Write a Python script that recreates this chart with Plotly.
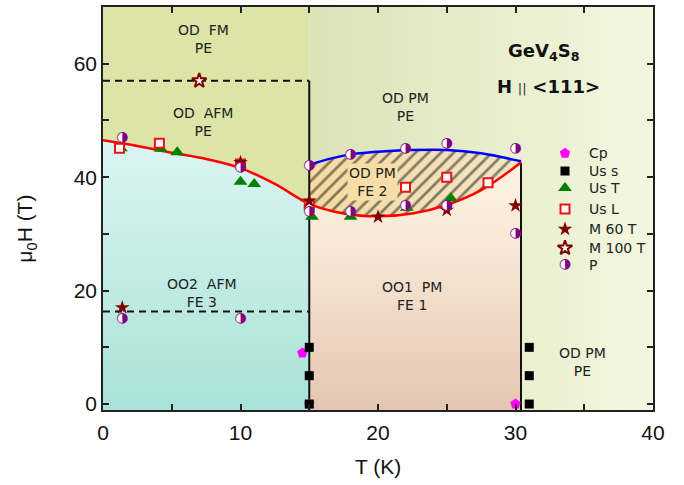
import plotly.graph_objects as go

# ---------------- axes ----------------
T_RANGE = [0, 40]
H_RANGE = [-1.05, 70]

# ---------------- phase boundaries ----------------
T_N1 = 15.0        # lower ordering temperature (K)
T_N2 = 30.4        # upper ordering temperature (K)
H_FM = 57.0        # AFM -> FM field (T)
H_FE3 = 16.3       # FE3 boundary field (T)

red_T = [0, 2.5, 5, 7.5, 10, 12.5, 15, 17.5, 20, 22.5, 25, 27.5, 30.4]
red_H = [46.5, 45.5, 44.3, 43.2, 41.6, 38.8, 35.3, 33.6, 33.1, 33.6, 35.1, 37.7, 42.6]
blue_T = [15, 17.5, 20, 22.5, 25, 27.5, 30.4]
blue_H = [42.2, 43.8, 44.5, 44.8, 44.8, 44.2, 42.8]

# ---------------- data points ----------------
cp_T = [14.5, 15, 30]
cp_H = [9, 0, 0]
uss_T = [15, 15, 15, 31, 31, 31]
uss_H = [10, 5, 0, 10, 5, 0]
ust_T = [1.3, 4.2, 5.4, 10, 11, 15.2, 18, 22.1, 25.3]
ust_H = [45.1, 45.0, 44.4, 39.2, 38.8, 33.0, 33.0, 34.6, 36.3]
usl_T = [1.2, 4.1, 10, 15, 22, 25, 28]
usl_H = [45.1, 46.0, 42.3, 35.2, 38.2, 40.0, 39.0]
m60_T = [1.4, 10, 15, 20, 25, 30]
m60_H = [17.0, 42.6, 35.8, 33.0, 34.2, 35.0]
m100_T = [7]
m100_H = [57]
p_T = [1.4, 1.4, 10, 10, 15, 15, 18, 18, 22, 22, 25, 25, 30, 30]
p_H = [47.0, 15.0, 15.0, 41.7, 42.1, 34.0, 44.0, 34.0, 45.0, 35.0, 46.0, 35.0, 45.0, 30.0]

legend_names = ["Cp", "Us s", "Us T", "Us L", "M 60 T", "M 100 T", "P"]

LBL_FONT = dict(family="DejaVu Sans", size=14, color="#222222")
AX_FONT = dict(family="Liberation Sans, Arial", size=21, color="#111111")
PURPLE = "#800080"

fig = go.Figure()

ylo, yhi = H_RANGE

# upper-left olive region
fig.add_trace(go.Scatter(x=[T_RANGE[0], T_N1, T_N1, T_RANGE[0]], y=[ylo, ylo, yhi, yhi],
                         fill="toself", fillcolor="#dce4a8", mode="lines",
                         line=dict(width=0), hoverinfo="skip", showlegend=False))
# upper-right gradient region
fig.add_trace(go.Scatter(x=[T_N1, T_RANGE[1], T_RANGE[1], T_N1], y=[ylo, ylo, yhi, yhi],
                         fill="toself", mode="lines", line=dict(width=0),
                         fillgradient=dict(type="horizontal",
                                           colorscale=[[0, "#dbe2b6"], [0.5, "#e7edcb"], [1, "#f3f7e0"]]),
                         hoverinfo="skip", showlegend=False))

n1 = red_T.index(T_N1)

# lower-left cyan region
fig.add_trace(go.Scatter(x=[T_RANGE[0], T_N1], y=[ylo, ylo], mode="lines",
                         line=dict(width=0), hoverinfo="skip", showlegend=False))
fig.add_trace(go.Scatter(x=red_T[:n1 + 1], y=red_H[:n1 + 1], mode="lines",
                         line=dict(width=0, shape="spline"), fill="tonexty",
                         fillgradient=dict(type="vertical",
                                           colorscale=[[0, "#a9e2d8"], [1, "#dbf5f1"]]),
                         hoverinfo="skip", showlegend=False))
# lower-middle peach region
fig.add_trace(go.Scatter(x=[T_N1, T_N2], y=[ylo, ylo], mode="lines",
                         line=dict(width=0), hoverinfo="skip", showlegend=False))
fig.add_trace(go.Scatter(x=red_T[n1:], y=red_H[n1:], mode="lines",
                         line=dict(width=0, shape="spline"), fill="tonexty",
                         fillgradient=dict(type="vertical",
                                           colorscale=[[0, "#e3c6b1"], [0.6, "#f6e5d3"], [1, "#fdf3e2"]]),
                         hoverinfo="skip", showlegend=False))
# hatched FE2 region
fig.add_trace(go.Scatter(x=red_T[n1:], y=red_H[n1:], mode="lines",
                         line=dict(width=0, shape="spline"), hoverinfo="skip", showlegend=False))
fig.add_trace(go.Scatter(x=blue_T, y=blue_H, mode="lines",
                         line=dict(width=0, shape="spline"), fill="tonexty",
                         fillgradient=dict(type="horizontal",
                                           colorscale=[[0, "#f6daa1"], [1, "#f0e6c6"]]),
                         hoverinfo="skip", showlegend=False))
fig.add_trace(go.Scatter(x=red_T[n1:], y=red_H[n1:], mode="lines",
                         line=dict(width=0, shape="spline"), hoverinfo="skip", showlegend=False))
fig.add_trace(go.Scatter(x=blue_T, y=blue_H, mode="lines",
                         line=dict(width=0, shape="spline"), fill="tonexty",
                         fillcolor="rgba(0,0,0,0)",
                         fillpattern=dict(shape="/", size=9, solidity=0.3,
                                          fgcolor="#111111", bgcolor="rgba(0,0,0,0)"),
                         hoverinfo="skip", showlegend=False))

# black phase lines
fig.add_trace(go.Scatter(x=[T_N1, T_N1], y=[ylo, H_FM], mode="lines",
                         line=dict(color="#111111", width=2), hoverinfo="skip", showlegend=False))
fig.add_trace(go.Scatter(x=[T_N2, T_N2], y=[ylo, red_H[-1]], mode="lines",
                         line=dict(color="#111111", width=2), hoverinfo="skip", showlegend=False))
for hv in (H_FM, H_FE3):
    fig.add_trace(go.Scatter(x=[T_RANGE[0], T_N1], y=[hv, hv], mode="lines",
                             line=dict(color="#111111", width=2, dash="7px,5px"),
                             hoverinfo="skip", showlegend=False))

# red and blue boundaries
fig.add_trace(go.Scatter(x=red_T, y=red_H, mode="lines",
                         line=dict(color="#ff0000", width=2.5, shape="spline"),
                         hoverinfo="skip", showlegend=False))
fig.add_trace(go.Scatter(x=blue_T, y=blue_H, mode="lines",
                         line=dict(color="#0000ff", width=2.5, shape="spline"),
                         hoverinfo="skip", showlegend=False))

# marker styles
styles = {
    "Cp": dict(symbol="pentagon", size=11, color="#ff00ff", line=dict(width=0)),
    "Us s": dict(symbol="square", size=9, color="#000000", line=dict(width=0)),
    "Us T": dict(symbol="triangle-up", size=12, color="#008000", line=dict(width=0)),
    "Us L": dict(symbol="square", size=9, color="#ffffff", line=dict(width=2, color="#ee1111")),
    "M 60 T": dict(symbol="star", size=11, color="#800000", line=dict(width=0)),
    "M 100 T": dict(symbol="star", size=11, color="#ffffff", line=dict(width=2, color="#800000")),
}
series = {
    "Cp": (cp_T, cp_H), "Us s": (uss_T, uss_H), "Us T": (ust_T, ust_H),
    "Us L": (usl_T, usl_H), "M 60 T": (m60_T, m60_H), "M 100 T": (m100_T, m100_H),
}
for name in legend_names[:-1]:
    xs, ys = series[name]
    fig.add_trace(go.Scatter(x=xs, y=ys, mode="markers", marker=styles[name],
                             name=name, showlegend=False, hoverinfo="skip"))

# P: half-filled circles (white base + glyph)
fig.add_trace(go.Scatter(x=p_T, y=p_H, mode="markers",
                         marker=dict(symbol="circle", size=10, color="#ffffff", line=dict(width=0)),
                         showlegend=False, hoverinfo="skip"))
fig.add_trace(go.Scatter(x=p_T, y=p_H, mode="text", text=["\u25d1"] * len(p_T),
                         textposition="middle center",
                         textfont=dict(family="DejaVu Sans", size=14, color=PURPLE),
                         showlegend=False, hoverinfo="skip"))

# ---------------- manual legend (overlay axes) ----------------
leg_x = 0.84
leg_rows = [0.637, 0.593, 0.551, 0.499, 0.449, 0.402, 0.360]
for name, yy in zip(legend_names[:-1], leg_rows[:-1]):
    fig.add_trace(go.Scatter(x=[leg_x], y=[yy], xaxis="x2", yaxis="y2", mode="markers",
                             marker=styles[name], showlegend=False, hoverinfo="skip"))
fig.add_trace(go.Scatter(x=[leg_x], y=[leg_rows[-1]], xaxis="x2", yaxis="y2", mode="markers",
                         marker=dict(symbol="circle", size=10, color="#ffffff", line=dict(width=0)),
                         showlegend=False, hoverinfo="skip"))
fig.add_trace(go.Scatter(x=[leg_x], y=[leg_rows[-1]], xaxis="x2", yaxis="y2", mode="text",
                         text=["\u25d1"], textposition="middle center",
                         textfont=dict(family="DejaVu Sans", size=14, color=PURPLE),
                         showlegend=False, hoverinfo="skip"))

annotations = []
for name, yy in zip(legend_names, leg_rows):
    annotations.append(dict(x=0.88, y=yy, xref="paper", yref="paper", text=name,
                            showarrow=False, xanchor="left", yanchor="middle", font=LBL_FONT))

# region labels
region_labels = [
    ("OD  FM<br>PE", 7.3, 64.4, None),
    ("OD  AFM<br>PE", 7.3, 49.8, None),
    ("OD PM<br>PE", 22.0, 52.3, None),
    ("OD PM<br>FE 2", 19.6, 39.1, "#f7dea6"),
    ("OO2  AFM<br>FE 3", 7.2, 19.5, None),
    ("OO1  PM<br>FE 1", 22.5, 19.0, None),
    ("OD PM<br>PE", 34.9, 7.4, None),
]
for txt, xx, yy, bg in region_labels:
    a = dict(x=xx, y=yy, xref="x", yref="y", text=txt, showarrow=False,
             font=LBL_FONT, align="center")
    if bg:
        a.update(bgcolor=bg, borderpad=1)
    annotations.append(a)

annotations.append(dict(x=32.0, y=62.0, xref="x", yref="y", showarrow=False,
                        text="<b>GeV<sub>4</sub>S<sub>8</sub></b>",
                        font=dict(family="DejaVu Sans", size=18, color="#111111")))
annotations.append(dict(x=32.4, y=56.0, xref="x", yref="y", showarrow=False,
                        text="<b>H</b> <span style='font-size:13px;color:#333333'>||</span> <b>&lt;111&gt;</b>",
                        font=dict(family="DejaVu Sans", size=18, color="#111111")))

# axis titles as annotations
annotations.append(dict(x=0.5, y=-0.141, xref="paper", yref="paper", text="T (K)",
                        showarrow=False, xanchor="center", yanchor="middle", font=AX_FONT))
annotations.append(dict(x=-0.14, y=0.45, xref="paper", yref="paper",
                        text="\u03bc<sub>0</sub>H (T)", textangle=-90,
                        showarrow=False, xanchor="center", yanchor="middle", font=AX_FONT))

axis_common = dict(showgrid=False, zeroline=False, showline=True, linecolor="#222222",
                   linewidth=1.5, mirror="ticks", ticks="inside", ticklen=6, tickwidth=1.5,
                   tickcolor="#222222", tickfont=AX_FONT)

fig.update_layout(
    width=684, height=485,
    margin=dict(l=103, r=31, t=5, b=75),
    paper_bgcolor="#ffffff", plot_bgcolor="#ffffff",
    xaxis=dict(range=T_RANGE, tick0=0, dtick=10, ticklabelstandoff=3,
               minor=dict(dtick=5, ticks="inside", ticklen=6, tickwidth=1.5, tickcolor="#222222"),
               **axis_common),
    yaxis=dict(range=H_RANGE, tick0=0, dtick=20,
               minor=dict(dtick=10, ticks="inside", ticklen=6, tickwidth=1.5, tickcolor="#222222"),
               **axis_common),
    xaxis2=dict(overlaying="x", range=[0, 1], visible=False),
    yaxis2=dict(overlaying="y", range=[0, 1], visible=False),
    annotations=annotations,
    showlegend=False,
)

fig.write_html("out.html", config={"displayModeBar": False},
               post_script="document.body.style.margin='0px';")
